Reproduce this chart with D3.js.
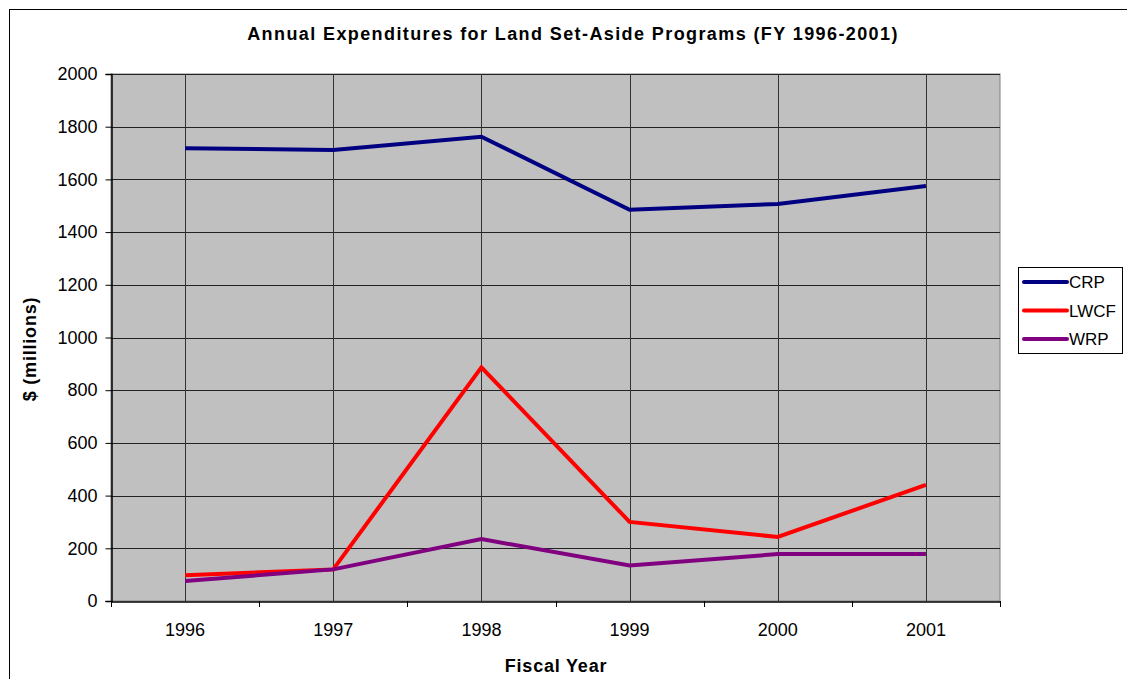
<!DOCTYPE html>
<html><head><meta charset="utf-8">
<script src="https://cdn.jsdelivr.net/npm/d3@7"></script>
<style>
html,body{margin:0;padding:0;background:#fff;}
text{font-family:"Liberation Sans",Arial,sans-serif;}
</style></head>
<body>
<svg id="c" width="1127" height="679"></svg>
<script>
const years = ["1996","1997","1998","1999","2000","2001"];
const crp  = [1718, 1712, 1762, 1485, 1507, 1575];
const lwcf = [98, 120, 887, 300, 243, 441];
const wrp  = [76, 120, 235, 135, 178, 178];
const seriesNames = ["CRP","LWCF","WRP"];
const seriesColors = ["#000080","#FF0000","#800080"];
const yTicks = [0,200,400,600,800,1000,1200,1400,1600,1800,2000];

const svg = d3.select("#c");
const L=111, R=1000, T=74, B=601;

svg.append("rect").attr("x",9.5).attr("y",9.5).attr("width",1130).attr("height",700)
  .attr("fill","#fff").attr("stroke","#000").attr("stroke-width",1);

const x = d3.scaleBand().domain(years).range([L,R]);
const y = d3.scaleLinear().domain([0,2000]).range([B,T]);
const xc = d => x(d)+x.bandwidth()/2;

svg.append("rect").attr("x",L).attr("y",T).attr("width",R-L).attr("height",B-T)
  .attr("fill","#C0C0C0").attr("stroke","#808080").attr("stroke-width",1);

// horizontal grid
svg.append("g").selectAll("line").data(yTicks.slice(1)).join("line")
  .attr("x1",L).attr("x2",R).attr("y1",d=>Math.round(y(d))+0.5).attr("y2",d=>Math.round(y(d))+0.5)
  .attr("stroke","#222").attr("stroke-width",1);
// vertical grid
svg.append("g").selectAll("line").data(years).join("line")
  .attr("x1",d=>Math.round(xc(d))+0.5).attr("x2",d=>Math.round(xc(d))+0.5).attr("y1",T).attr("y2",B)
  .attr("stroke","#333").attr("stroke-width",1);

// y axis
const ya = svg.append("g").attr("transform",`translate(${L+0.5},0)`)
  .call(d3.axisLeft(y).tickValues(yTicks).tickSize(6).tickPadding(8).tickFormat(d3.format("d")));
ya.select(".domain").attr("stroke","#000").attr("stroke-width",1.5);
ya.selectAll(".tick line").attr("stroke","#000");
ya.selectAll("text").attr("font-size",18).attr("fill","#000").style("font-family","Liberation Sans, Arial, sans-serif");

// x axis
const xa = svg.append("g").attr("transform",`translate(0,${B+0.5})`)
  .call(d3.axisBottom(x).tickSize(0).tickPadding(22));
xa.select(".domain").attr("stroke","#000").attr("stroke-width",1.5);
xa.selectAll("text").attr("font-size",18).attr("fill","#000").style("font-family","Liberation Sans, Arial, sans-serif");
// boundary ticks
const bounds = years.map(d=>x(d)).concat([R]);
svg.append("g").selectAll("line").data(bounds).join("line")
  .attr("x1",d=>Math.round(d)+0.5).attr("x2",d=>Math.round(d)+0.5).attr("y1",B).attr("y2",B+6)
  .attr("stroke","#000");

const line = d3.line().x((d,i)=>xc(years[i])).y(d=>y(d));
[crp,lwcf,wrp].forEach((s,i)=>{
  svg.append("path").datum(s).attr("d",line).attr("fill","none")
    .attr("stroke",seriesColors[i]).attr("stroke-width",4).attr("stroke-linejoin","miter");
});

svg.append("text").attr("x",573).attr("y",40).attr("text-anchor","middle")
  .attr("font-size",18).attr("font-weight","bold").attr("letter-spacing",1.4)
  .text("Annual Expenditures for Land Set-Aside Programs (FY 1996-2001)");
svg.append("text").attr("x",556).attr("y",672).attr("text-anchor","middle")
  .attr("font-size",18).attr("font-weight","bold").attr("letter-spacing",0.8).text("Fiscal Year");
svg.append("text").attr("transform","translate(36,349) rotate(-90)").attr("text-anchor","middle")
  .attr("font-size",18).attr("font-weight","bold").attr("letter-spacing",0.8).text("$ (millions)");

// legend
const lg = svg.append("g");
lg.append("rect").attr("x",1018.5).attr("y",267.5).attr("width",104).attr("height",86)
  .attr("fill","#fff").attr("stroke","#000");
seriesNames.forEach((n,i)=>{
  const yy = 282 + i*28.5;
  lg.append("line").attr("x1",1024).attr("x2",1067).attr("y1",yy).attr("y2",yy)
    .attr("stroke",seriesColors[i]).attr("stroke-width",4).attr("stroke-linecap","round");
  lg.append("text").attr("x",1069).attr("y",yy+6).attr("font-size",17).text(n);
});
</script>
</body></html>
